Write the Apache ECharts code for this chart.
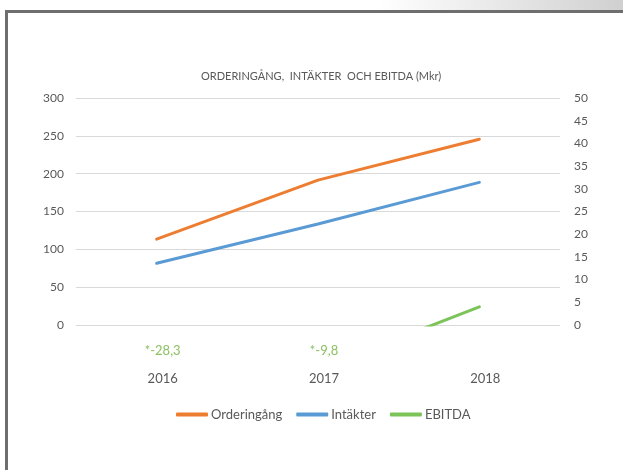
<!DOCTYPE html>
<html>
<head>
<meta charset="utf-8">
<script src="https://cdn.jsdelivr.net/npm/echarts@6/dist/echarts.min.js"></script>
<style>
html,body{margin:0;padding:0;background:#fff;}
#c{width:623px;height:470px;}
</style>
</head>
<body>
<div id="c"></div>
<script>
const categories = ['2016', '2017', '2018'];
const orderingang = [113.5, 191.5, 245.5];
const intakter = [81.5, 133.5, 188.5];
const ebitda = [-28.3, -9.8, 4.0];
const leftTicks = { min: 0, max: 300, interval: 50 };
const rightTicks = { min: 0, max: 50, interval: 5 };
const titleText = 'ORDERINGÅNG,  INTÄKTER  OCH EBITDA (Mkr)';

const ebitdaNotes = ebitda.map(v => v < 0 ? '*' + String(v).replace('.', ',') : '');

const FONT = 'Lato';
const GRAY = '#595959';

const chart = echarts.init(document.getElementById('c'), null, { renderer: 'canvas' });
chart.setOption({
  backgroundColor: '#ffffff',
  animation: false,
  title: {
    text: titleText,
    left: 196, top: 66,
    textStyle: { fontFamily: FONT, fontSize: 11, fontWeight: 'normal', color: GRAY }
  },
  graphic: [
    { type: 'rect', shape: { x: 380, y: 0, width: 243, height: 10 },
      style: { fill: new echarts.graphic.LinearGradient(0, 0, 1, 0, [
        { offset: 0, color: '#ffffff' }, { offset: 1, color: '#d0d0d0' }]) }, silent: true },
    { type: 'rect', shape: { x: 5, y: 10, width: 618, height: 3 }, style: { fill: '#6e6e6e' }, silent: true },
    { type: 'rect', shape: { x: 5, y: 10, width: 3, height: 460 }, style: { fill: '#6e6e6e' }, silent: true }
  ],
  grid: { left: 76, right: 63, top: 98, bottom: 145, containLabel: false },
  legend: {
    data: ['Orderingång', 'Intäkter', 'EBITDA'],
    top: 403, left: 171,
    icon: 'roundRect',
    itemWidth: 32, itemHeight: 4, itemGap: 14,
    textStyle: { fontFamily: FONT, fontSize: 13, color: GRAY, padding: [0, 0, 0, -2] }
  },
  xAxis: {
    type: 'category',
    data: categories,
    boundaryGap: true,
    axisLine: { show: false },
    axisTick: { show: false },
    axisLabel: {
      margin: 12,
      padding: [0, 0, 0, 12],
      formatter: (val, idx) => '{g|' + (ebitdaNotes[idx] || ' ') + '}\n{y|' + val + '}',
      rich: {
        g: { fontFamily: FONT, fontSize: 13, color: '#8cc162', lineHeight: 28 },
        y: { fontFamily: FONT, fontSize: 13, color: GRAY, lineHeight: 28 }
      }
    }
  },
  yAxis: [
    {
      type: 'value', min: leftTicks.min, max: leftTicks.max, interval: leftTicks.interval,
      axisLine: { show: false }, axisTick: { show: false },
      axisLabel: { margin: 12, fontFamily: FONT, fontSize: 12, color: GRAY },
      splitLine: { lineStyle: { color: '#d9d9d9', width: 1 } }
    },
    {
      type: 'value', min: rightTicks.min, max: rightTicks.max, interval: rightTicks.interval,
      axisLine: { show: false }, axisTick: { show: false },
      axisLabel: { margin: 14, fontFamily: FONT, fontSize: 12, color: GRAY },
      splitLine: { show: false }
    }
  ],
  series: [
    { name: 'Orderingång', type: 'line', data: orderingang, yAxisIndex: 0,
      symbol: 'none', color: '#ed7d31', lineStyle: { width: 3, cap: 'round' } },
    { name: 'Intäkter', type: 'line', data: intakter, yAxisIndex: 0,
      symbol: 'none', color: '#5b9bd5', lineStyle: { width: 3, cap: 'round' } },
    { name: 'EBITDA', type: 'line', data: ebitda, yAxisIndex: 1, clip: true,
      symbol: 'none', color: '#7cc35a', lineStyle: { width: 3, cap: 'round' } }
  ]
});
</script>
</body>
</html>
